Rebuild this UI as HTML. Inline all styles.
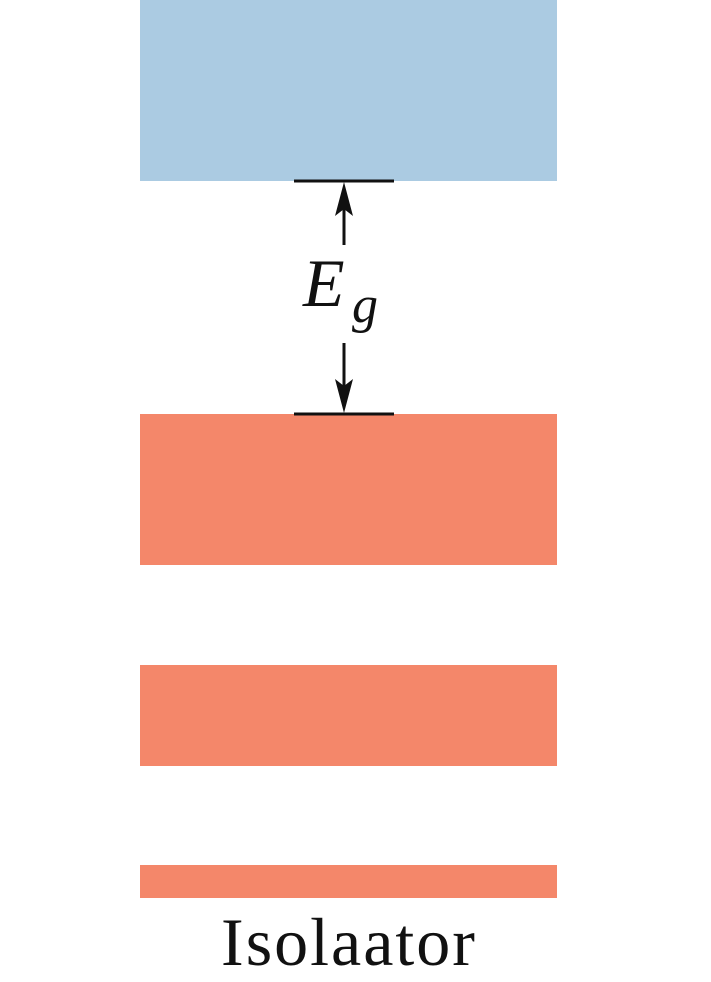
<!DOCTYPE html>
<html><head><style>
body{margin:0;width:711px;height:982px;background:#fff;position:relative;overflow:hidden}
div{position:absolute}
.o{background:#f4876a;left:140px;width:417px}
</style></head><body>
<div style="left:140px;top:0;width:417px;height:181px;background:#abcbe2"></div>
<div class="o" style="top:414px;height:151px"></div>
<div class="o" style="top:665px;height:101px"></div>
<div class="o" style="top:865px;height:33px"></div>
<svg width="711" height="982" style="position:absolute;left:0;top:0">
<line x1="294" y1="181" x2="394" y2="181" stroke="#111" stroke-width="3"/>
<line x1="294" y1="414" x2="394" y2="414" stroke="#111" stroke-width="3"/>
<line x1="344" y1="200" x2="344" y2="245" stroke="#111" stroke-width="3"/>
<polygon points="344,182 335,216 344,209 353,216" fill="#111"/>
<line x1="344" y1="343" x2="344" y2="395" stroke="#111" stroke-width="3"/>
<polygon points="344,413 335,379 344,386 353,379" fill="#111"/>
<text x="303" y="306" font-family="Liberation Serif" font-style="italic" font-size="68" fill="#111">E</text>
<text x="352" y="322" font-family="Liberation Serif" font-style="italic" font-size="52" fill="#111">g</text>
<text x="349" y="965" text-anchor="middle" font-family="Liberation Serif" font-size="68" letter-spacing="2" fill="#111">Isolaator</text>
</svg>
</body></html>
